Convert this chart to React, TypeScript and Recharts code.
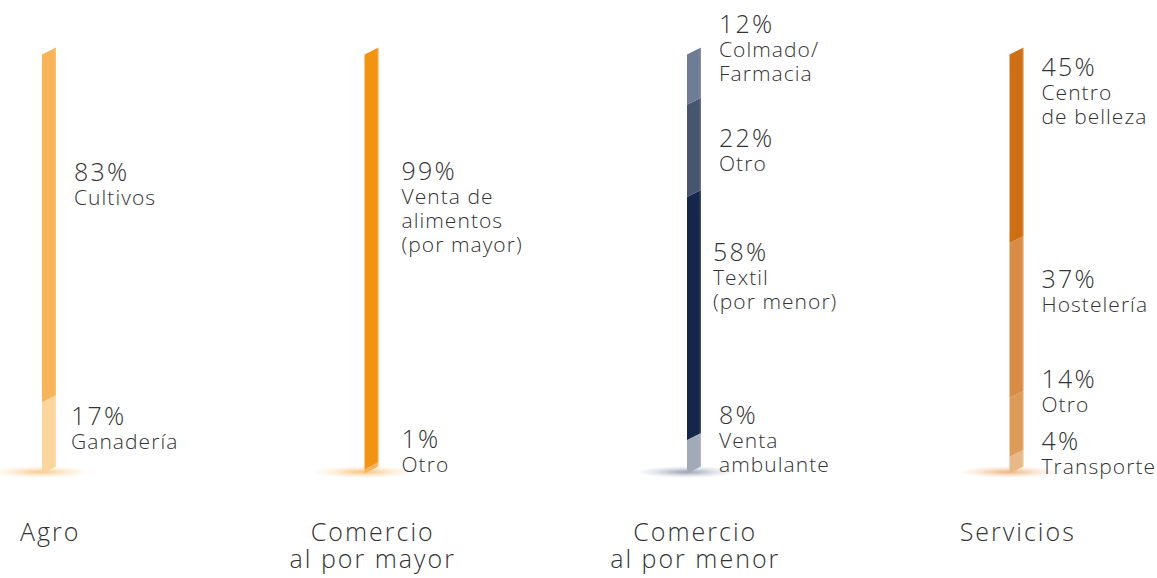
import React from 'react';
import { BarChart, Bar, XAxis, YAxis, LabelList } from 'recharts';

// ---------- data ----------
const categories = ['Agro', 'Comercio al por mayor', 'Comercio al por menor', 'Servicios'];
const categoryLines = [['Agro'], ['Comercio', 'al por mayor'], ['Comercio', 'al por menor'], ['Servicios']];

// segments listed bottom -> top
const agroValues = [17, 83];
const agroLabels = [['Ganadería'], ['Cultivos']];
const mayorValues = [1, 99];
const mayorLabels = [['Otro'], ['Venta de', 'alimentos', '(por mayor)']];
const menorValues = [8, 58, 22, 12];
const menorLabels = [['Venta', 'ambulante'], ['Textil', '(por menor)'], ['Otro'], ['Colmado/', 'Farmacia']];
const serviciosValues = [4, 14, 37, 45];
const serviciosLabels = [['Transporte'], ['Otro'], ['Hostelería'], ['Centro', 'de belleza']];

const seriesValues = [agroValues, mayorValues, menorValues, serviciosValues];
const seriesLabels = [agroLabels, mayorLabels, menorLabels, serviciosLabels];

// ---------- styles ----------
const colors = [
  ['#FCD49E', '#F8B459'],
  ['#F8B55C', '#F39314'],
  ['#A2AAB8', '#14274A', '#47556F', '#6F7C95'],
  ['#E8B888', '#DD9B5A', '#D98C46', '#CE6E15'],
];
const glowColors = ['#F5A030', '#F39314', '#4A5878', '#E07A1A'];
// label layout: [dx from bar centre, dy of first baseline from segment middle]
const labelLayout = [
  [[22, -9], [25, -44]],
  [[30, -20], [30, -78]],
  [[25, -29], [19, -54], [25, 0], [25, -43]],
  [[25, -12], [25, -36], [25, -29], [25, -69]],
];

const FONT = '"Open Sans", Roboto, sans-serif';
const TEXT = '#333333';
const KEYS = ['s0', 's1', 's2', 's3'];

const data = categories.map((name, i) => {
  const row: any = { name };
  KEYS.forEach((k, j) => {
    row[k] = seriesValues[i][j] ?? 0;
  });
  return row;
});

const makeShape = (k: number) => (props: any) => {
  const { x, y, width, height, index } = props;
  const v = seriesValues[index]?.[k];
  if (!v) return <g />;
  const cx = x + width / 2;
  const hw = 7;
  const s = 3.5;
  const l = cx - hw;
  const r = cx + hw;
  const top = y;
  const bot = y + height;
  const pts = `${l},${top + s} ${r},${top - s} ${r},${bot - s} ${l},${bot + s}`;
  const hl = `${r - 1.5},${top - s + 0.4} ${r},${top - s} ${r},${bot - s} ${r - 1.5},${bot - s + 0.4}`;
  const gid = `glow${index}`;
  return (
    <g>
      {k === 0 && (
        <g>
          <defs>
            <radialGradient id={gid} cx="50%" cy="50%" r="50%">
              <stop offset="0%" stopColor={glowColors[index]} stopOpacity={0.55} />
              <stop offset="60%" stopColor={glowColors[index]} stopOpacity={0.16} />
              <stop offset="100%" stopColor={glowColors[index]} stopOpacity={0} />
            </radialGradient>
          </defs>
          <ellipse cx={cx - 8} cy={bot + 2} rx={50} ry={6} fill={`url(#${gid})`} />
        </g>
      )}
      <polygon points={pts} fill={colors[index][k]} />
      <polygon points={hl} fill="#ffffff" fillOpacity={0.15} />
    </g>
  );
};

const makeLabel = (k: number) => (props: any) => {
  const { x, y, width, height, index } = props;
  const v = seriesValues[index]?.[k];
  if (!v) return null;
  const cx = Number(x) + Number(width) / 2;
  const mid = Number(y) + Number(height) / 2;
  const [dx, dy] = labelLayout[index][k];
  const tx = cx + dx;
  const base = mid + dy;
  const lines = seriesLabels[index][k];
  return (
    <g>
      <text x={tx} y={base} fontSize={25} fontWeight={300} fontFamily={FONT} fill={TEXT} letterSpacing={2.2}>
        {`${v}%`}
      </text>
      {lines.map((t, j) => (
        <text
          key={j}
          x={tx}
          y={base + 24 * (j + 1)}
          fontSize={21}
          fontWeight={300}
          fontFamily={FONT}
          fill={TEXT}
          letterSpacing={1.05}
        >
          {t}
        </text>
      ))}
    </g>
  );
};

const CategoryTick = (props: any) => {
  const { x, y, payload } = props;
  const i = categories.indexOf(payload.value);
  const lines = categoryLines[i] || [payload.value];
  return (
    <g>
      {lines.map((t, j) => (
        <text
          key={j}
          x={x + 1}
          y={y + 71 + j * 27}
          textAnchor="middle"
          fontSize={25}
          fontWeight={300}
          fontFamily={FONT}
          fill={TEXT}
          letterSpacing={2}
        >
          {t}
        </text>
      ))}
    </g>
  );
};

export default function App() {
  return (
    <div style={{ position: 'absolute', left: 0, top: 0, width: 1157, height: 578, background: '#fff' }}>
      <BarChart
        width={1157}
        height={578}
        data={data}
        margin={{ top: 51, right: -21, bottom: 8, left: -112 }}
        barSize={14}
      >
        <XAxis
          dataKey="name"
          axisLine={false}
          tickLine={false}
          tickSize={0}
          tickMargin={0}
          height={100}
          interval={0}
          tick={<CategoryTick />}
        />
        <YAxis hide domain={[0, 100]} type="number" />
        {KEYS.map((k, j) => (
          <Bar key={k} dataKey={k} stackId="a" isAnimationActive={false} shape={makeShape(j)}>
            <LabelList dataKey={k} content={makeLabel(j)} />
          </Bar>
        ))}
      </BarChart>
    </div>
  );
}
